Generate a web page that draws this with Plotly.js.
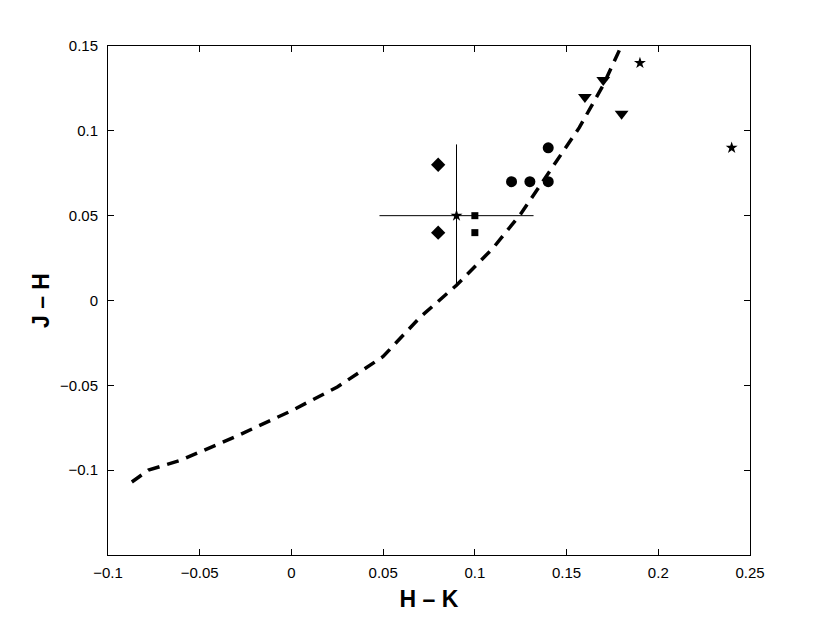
<!DOCTYPE html>
<html>
<head>
<meta charset="utf-8">
<script src="https://cdn.plot.ly/plotly-3.0.1.min.js"></script>
<style>
  body { margin: 0; background: #fff; }
  #chart { width: 830px; height: 626px; }
</style>
</head>
<body>
<div id="chart"></div>
<script>
// dashed reference track (H-K, J-H)
const trackHK = [-0.087, -0.078, -0.06, -0.03, 0.0, 0.025, 0.05, 0.07, 0.09, 0.11, 0.125, 0.14, 0.157, 0.17, 0.182];
const trackJH = [-0.107, -0.100, -0.094, -0.080, -0.065, -0.051, -0.033, -0.010, 0.009, 0.031, 0.051, 0.075, 0.102, 0.127, 0.155];

// observed colours, by group
const diamondHK = [0.08, 0.08];
const diamondJH = [0.08, 0.04];
const squareHK = [0.10, 0.10];
const squareJH = [0.05, 0.04];
const circleHK = [0.12, 0.13, 0.14, 0.14];
const circleJH = [0.07, 0.07, 0.07, 0.09];
const triHK = [0.16, 0.17, 0.18];
const triJH = [0.12, 0.13, 0.11];
const starHK = [0.19, 0.24];
const starJH = [0.14, 0.09];

// point with error bars
const errHK = [0.09];
const errJH = [0.05];
const errX = [0.042];
const errY = [0.042];

const xTicks = [-0.1, -0.05, 0, 0.05, 0.1, 0.15, 0.2, 0.25];
const xTickText = ['\u22120.1', '\u22120.05', '0', '0.05', '0.1', '0.15', '0.2', '0.25'];
const yTicks = [-0.1, -0.05, 0, 0.05, 0.1, 0.15];
const yTickText = ['\u22120.1', '\u22120.05', '0', '0.05', '0.1', '0.15'];

const font = 'Liberation Sans, Arial, sans-serif';

function markers(x, y, symbol, size) {
    return {
        x: x, y: y, type: 'scatter', mode: 'markers',
        marker: {symbol: symbol, size: size, color: '#000'},
        hoverinfo: 'x+y'
    };
}

const traces = [
    {
        x: trackHK, y: trackJH, type: 'scatter', mode: 'lines',
        line: {color: '#000', width: 3.5, dash: '12px,8px'},
        hoverinfo: 'skip'
    },
    {
        x: errHK, y: errJH, type: 'scatter', mode: 'markers',
        marker: {symbol: 'star', size: 9, color: '#000'},
        error_x: {type: 'data', array: errX, color: '#000', thickness: 1, width: 0},
        error_y: {type: 'data', array: errY, color: '#000', thickness: 1, width: 0}
    },
    markers(diamondHK, diamondJH, 'diamond', 11),
    markers(squareHK, squareJH, 'square', 7),
    markers(circleHK, circleJH, 'circle', 11),
    markers(triHK, triJH, 'triangle-down', 12),
    markers(starHK, starJH, 'star', 9)
];

const axisCommon = {
    showline: true, linecolor: '#000', linewidth: 1, mirror: 'ticks',
    ticks: 'inside', ticklen: 6, tickcolor: '#000',
    showgrid: false, zeroline: false,
    tickfont: {family: font, size: 15, color: '#000'}
};

const layout = {
    width: 830, height: 626,
    showlegend: false,
    paper_bgcolor: '#fff', plot_bgcolor: '#fff',
    margin: {l: 108, r: 80, t: 46, b: 71},
    xaxis: Object.assign({}, axisCommon, {
        range: [-0.1, 0.25], tickvals: xTicks, ticktext: xTickText,
        ticklabelstandoff: 4,
        title: {text: 'H \u2013 K', standoff: 10,
                font: {family: font, size: 23, color: '#000', weight: 'bold'}}
    }),
    yaxis: Object.assign({}, axisCommon, {
        range: [-0.15, 0.15], tickvals: yTicks, ticktext: yTickText,
        ticklabelstandoff: 6,
        title: {text: 'J \u2013 H', standoff: 3,
                font: {family: font, size: 23, color: '#000', weight: 'bold'}}
    })
};

Plotly.newPlot('chart', traces, layout, {displayModeBar: false, staticPlot: true});
</script>
</body>
</html>
